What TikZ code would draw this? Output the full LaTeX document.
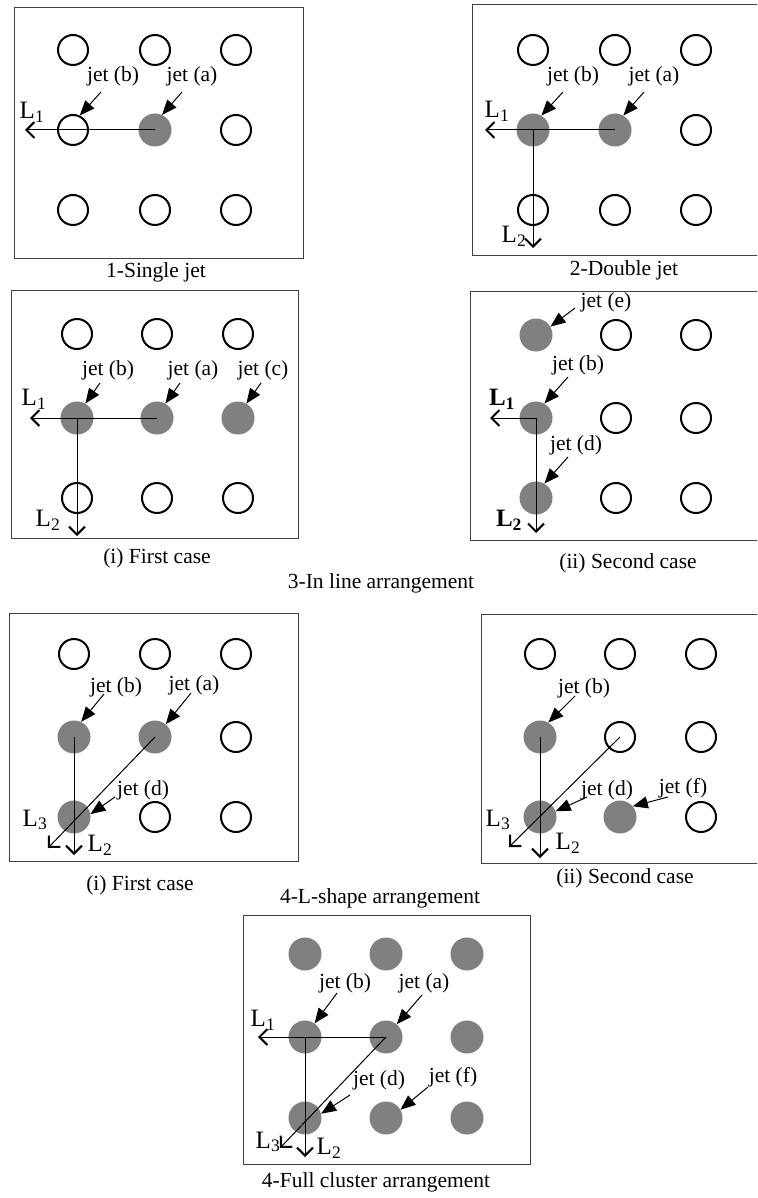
\documentclass[tikz,border=0pt]{standalone}
\usepackage{fontspec}
\setmainfont{Liberation Serif}
\usetikzlibrary{arrows.meta}
\newcommand\Lsub[1]{L\textsubscript{#1}}
\newcommand\jetgrid[4]{%
  \foreach \s [count=\i from 0] in {#4} {
    \pgfmathtruncatemacro\rr{div(\i,3)+1}
    \pgfmathtruncatemacro\cc{mod(\i,3)+1}
    \pgfmathsetmacro\px{{#2}[\cc-1]}
    \pgfmathsetmacro\py{{#3}[\rr-1]}
    \node[\s] (#1\rr\cc) at (\px,\py) {};
  }}
\begin{document}
\begin{tikzpicture}[x=1pt,y=-1pt,
  box/.style={draw=black!75, line width=1pt},
  oj/.style={circle, draw=black, line width=2pt, minimum size=30pt, inner sep=0pt},
  fj/.style={circle, fill=black!50, minimum size=33pt, inner sep=0pt},
  flow/.style={line width=1pt, -{Straight Barb[length=8pt,width=16pt,line width=2pt]}},
  ptr/.style={line width=1pt, -{Triangle[length=15pt,width=12pt]}},
  lbl/.style={font=\fontsize{21.5}{24}\selectfont, inner sep=0pt},
  captxt/.style={font=\fontsize{21.5}{24}\selectfont, inner sep=0pt},
  Llbl/.style={font=\fontsize{25}{27}\selectfont, inner sep=0pt}]
\useasboundingbox (0,0) rectangle (757,1198);
\clip (0,0) rectangle (757,1198);

% ---------- Panel 1: single jet
\draw[box] (14,8) rectangle (303,258);
\jetgrid{a}{73,155,236}{50,130,210}{oj,oj,oj,oj,fj,oj,oj,oj,oj}
\coordinate (aL1) at (25,130);
\draw[flow] (a22.center) -- (aL1);
\node[Llbl] (aL1t) at (32,112) {\Lsub{1}};
\node[lbl] (ajb) at (113,76) {jet (b)};
\node[lbl] (aja) at (192,76) {jet (a)};
\coordinate (ajbs) at (101,92);
\coordinate (ajas) at (182,92);
\draw[ptr] (ajbs) -- (a21.65);
\draw[ptr] (ajas) -- (a22.65);
\node[captxt] (acap) at (156,272) {1-Single jet};

% ---------- Panel 2: double jet
\draw[box] (472,5) rectangle (760,255);
\jetgrid{b}{533,615,696}{50,130,210}{oj,oj,oj,fj,fj,oj,oj,oj,oj}
\coordinate (bL1) at (485,130);
\coordinate (bL2) at (533,248);
\draw[flow] (b22.center) -- (bL1);
\draw[flow] (b21.center) -- (bL2);
\node[Llbl] (bL1t) at (497,111) {\Lsub{1}};
\node[Llbl] (bL2t) at (514,236) {\Lsub{2}};
\node[lbl] (bjb) at (573,76) {jet (b)};
\node[lbl] (bja) at (654,76) {jet (a)};
\coordinate (bjbs) at (563,92);
\coordinate (bjas) at (644,92);
\draw[ptr] (bjbs) -- (b21.60);
\draw[ptr] (bjas) -- (b22.60);
\node[captxt] (bcap) at (624,270) {2-Double jet};

% ---------- Panel 3: in line, first case
\draw[box] (11,290) rectangle (298,538);
\jetgrid{c}{77,157,238}{334,418,498}{oj,oj,oj,fj,fj,fj,oj,oj,oj}
\coordinate (cL1) at (30,418);
\coordinate (cL2) at (77,536);
\draw[flow] (c22.center) -- (cL1);
\draw[flow] (c21.center) -- (cL2);
\node[Llbl] (cL1t) at (34,399) {\Lsub{1}};
\node[Llbl] (cL2t) at (48,520) {\Lsub{2}};
\node[lbl] (cjb) at (108,370) {jet (b)};
\node[lbl] (cja) at (193,370) {jet (a)};
\node[lbl] (cjc) at (263,370) {jet (c)};
\coordinate (cjbs) at (100,383);
\coordinate (cjas) at (180,383);
\coordinate (cjcs) at (261,383);
\draw[ptr] (cjbs) -- (c21.60);
\draw[ptr] (cjas) -- (c22.60);
\draw[ptr] (cjcs) -- (c23.60);
\node[captxt] (ccap) at (157,558) {(i) First case};

% ---------- Panel 4: in line, second case
\draw[box] (470,291) rectangle (760,540);
\jetgrid{d}{536,616,696}{335,418,498}{fj,oj,oj,fj,oj,oj,fj,oj,oj}
\coordinate (dL1) at (490,418);
\coordinate (dL2) at (536,533);
\draw[flow] (d21.center) -- (dL1);
\draw[flow] (d21.center) -- (dL2);
\node[Llbl] (dL1t) at (502,399) {\textbf{\Lsub{1}}};
\node[Llbl] (dL2t) at (509,520) {\textbf{\Lsub{2}}};
\node[lbl] (dje) at (606,302) {jet (e)};
\node[lbl] (djb) at (578,365) {jet (b)};
\node[lbl] (djd) at (576,445) {jet (d)};
\coordinate (djes) at (575,308);
\coordinate (djbs) at (568,377);
\coordinate (djds) at (568,457);
\draw[ptr] (djes) -- (d11.30);
\draw[ptr] (djbs) -- (d21.60);
\draw[ptr] (djds) -- (d31.60);
\node[captxt] (dcap) at (628,563) {(ii) Second case};

\node[captxt] (t3) at (381,583) {3-In line arrangement};

% ---------- Panel 5: L-shape, first case
\draw[box] (9,613) rectangle (298,861);
\jetgrid{e}{74,155,236}{654,737,817}{oj,oj,oj,fj,fj,oj,fj,oj,oj}
\coordinate (eL2) at (74,855);
\coordinate (eL3) at (48,848);
\draw[flow] (e21.center) -- (eL2);
\draw[flow] (e22.center) -- (eL3);
\node[Llbl] (eL3t) at (35,820) {\Lsub{3}};
\node[Llbl] (eL2t) at (100,845) {\Lsub{2}};
\node[lbl] (ejb) at (116,687) {jet (b)};
\node[lbl] (eja) at (194,685) {jet (a)};
\node[lbl] (ejd) at (143,790) {jet (d)};
\coordinate (ejbs) at (104,694);
\coordinate (ejas) at (191,693);
\coordinate (ejds) at (115,797);
\draw[ptr] (ejbs) -- (e21.65);
\draw[ptr] (ejas) -- (e22.50);
\draw[ptr] (ejds) -- (e31.10);
\node[captxt] (ecap) at (140,885) {(i) First case};

% ---------- Panel 6: L-shape, second case
\draw[box] (481,614) rectangle (760,863);
\jetgrid{f}{540,620,701}{654,737,817}{oj,oj,oj,fj,oj,oj,fj,fj,oj}
\coordinate (fL2) at (540,858);
\coordinate (fL3) at (509,847);
\draw[flow] (f21.center) -- (fL2);
\draw[flow] (f22.center) -- (fL3);
\node[Llbl] (fL3t) at (498,820) {\Lsub{3}};
\node[Llbl] (fL2t) at (568,843) {\Lsub{2}};
\node[lbl] (fjb) at (584,688) {jet (b)};
\node[lbl] (fjd) at (607,790) {jet (d)};
\node[lbl] (fjf) at (683,788) {jet (f)};
\coordinate (fjbs) at (575,696);
\coordinate (fjds) at (587,797);
\coordinate (fjfs) at (668,797);
\draw[ptr] (fjbs) -- (f21.60);
\draw[ptr] (fjds) -- (f31.20);
\draw[ptr] (fjfs) -- (f32.40);
\node[captxt] (fcap) at (625,878) {(ii) Second case};

\node[captxt] (t4) at (380,898) {4-L-shape arrangement};

% ---------- Panel 7: full cluster
\draw[box] (243,915) rectangle (530,1164);
\jetgrid{g}{305,386,467}{954,1037,1118}{fj,fj,fj,fj,fj,fj,fj,fj,fj}
\coordinate (gL1) at (258,1037);
\coordinate (gL2) at (305,1157);
\coordinate (gL3) at (280,1148);
\draw[flow] (g22.center) -- (gL1);
\draw[flow] (g21.center) -- (gL2);
\draw[flow] (g22.center) -- (gL3);
\node[Llbl] (gL1t) at (263,1020) {\Lsub{1}};
\node[Llbl] (gL3t) at (268,1142) {\Lsub{3}};
\node[Llbl] (gL2t) at (329,1148) {\Lsub{2}};
\node[lbl] (gjb) at (345,983) {jet (b)};
\node[lbl] (gja) at (424,983) {jet (a)};
\node[lbl] (gjd) at (379,1080) {jet (d)};
\node[lbl] (gjf) at (453,1077) {jet (f)};
\coordinate (gjbs) at (337,993);
\coordinate (gjas) at (422,995);
\coordinate (gjds) at (350,1095);
\coordinate (gjfs) at (428,1087);
\draw[ptr] (gjbs) -- (g21.55);
\draw[ptr] (gjas) -- (g22.50);
\draw[ptr] (gjds) -- (g31.15);
\draw[ptr] (gjfs) -- (g32.30);
\node[captxt] (gcap) at (376,1182) {4-Full cluster arrangement};
\end{tikzpicture}
\end{document}
